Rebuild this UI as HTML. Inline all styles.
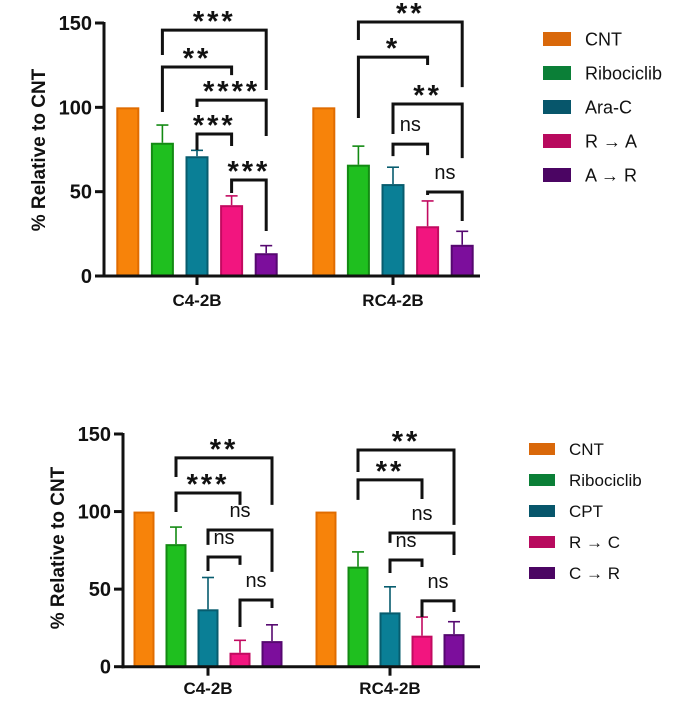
<!DOCTYPE html>
<html><head><meta charset="utf-8"><style>
html,body{margin:0;padding:0;background:#fff;}
svg{display:block;font-family:"Liberation Sans",sans-serif;}
</style></head><body>
<svg id="root" width="675" height="714" viewBox="0 0 675 714"></svg>
<script>
// ---- Chart 1 data ----
const groups1 = ["C4-2B", "RC4-2B"];
const series1 = ["CNT", "Ribociclib", "Ara-C", "R \u2192 A", "A \u2192 R"];
const means1 = [[100, 79, 71, 42, 13.5], [100, 66, 54.5, 29.5, 18.5]];
const errs1 = [[0, 10.5, 3.5, 5.5, 4.5], [0, 11, 10, 15, 8]];
const yTicks1 = [0, 50, 100, 150];
// brackets: [group, fromSeries, toSeries, level, leftEnd, rightEnd, label]
const sig1 = [
  [0,1,4,145.8,131,110.3,"***"],[0,1,3,123.9,97.2,119.1,"**"],[0,2,4,104.3,100.2,83,"****"],
  [0,2,3,84.2,74.7,77.1,"***"],[0,3,4,56.9,49.2,26.7,"***"],
  [1,1,4,150.6,139.9,112,"**"],[1,1,3,129.8,93.7,125.1,"*"],[1,2,4,102,84.2,69.9,"**"],
  [1,2,3,78.2,71.1,71.7,"ns"],[1,3,4,49.8,48,32.6,"ns"]
];
// ---- Chart 2 data ----
const groups2 = ["C4-2B", "RC4-2B"];
const series2 = ["CNT", "Ribociclib", "CPT", "R \u2192 C", "C \u2192 R"];
const means2 = [[100, 79, 37, 9, 16.5], [100, 64.5, 35, 20, 21]];
const errs2 = [[0, 11, 20.5, 8, 10.5], [0, 9.5, 16.5, 12, 8]];
const yTicks2 = [0, 50, 100, 150];
const sig2 = [
  [0,1,4,134.6,122.3,104.3,"**"],[0,1,3,112,99.7,104.3,"***"],[0,2,4,88.1,78.5,61.1,"ns"],
  [0,2,3,70.7,61.7,65.6,"ns"],[0,3,4,43,25.6,37.8,"ns"],
  [1,1,4,139.7,125.5,91.4,"**"],[1,1,3,120.4,107.5,108.1,"**"],[1,2,4,86.2,79.8,72,"ns"],
  [1,2,3,68.8,60.4,64.3,"ns"],[1,3,4,42.4,32,35.3,"ns"]
];

const barFill = ["#f7830a","#1fbf1f","#0a7f96","#f2157f","#7c0e9c"];
const barStroke = ["#e06c00","#138a13","#075c6e","#c20a60","#560870"];
const legFill = ["#d9680a","#0b7f37","#07566b","#b80a5e","#4b0563"];
const NS = "http://www.w3.org/2000/svg";
const root = document.getElementById("root");
function mk(tag, attrs, parent) {
  const e = document.createElementNS(NS, tag);
  for (const k in attrs) e.setAttribute(k, attrs[k]);
  (parent || root).appendChild(e);
  return e;
}

function drawChart(cfg, groups, series, means, errs, yTicks, sig, prefix) {
  const g = mk("g", {});
  
  
  const y = v => cfg.y0 - (v - 0) * (cfg.y0 - cfg.y150) / 150;
  const centers = groups.map((_, gi) => series.map((_, si) => cfg.gx[gi] + (si - 2) * cfg.step));
  groups.forEach((grp, gi) => {
    series.forEach((s, si) => {
      const cx = centers[gi][si], v = means[gi][si], e = errs[gi][si];
      if (e > 0) {
        const ln = mk("line", {x1: cx, x2: cx, y1: y(v), y2: y(v + e), stroke: barStroke[si], "stroke-width": 1.6}, g);
        
        
        const cap = mk("line", {x1: cx - 6, x2: cx + 6, y1: y(v + e), y2: y(v + e), stroke: barStroke[si], "stroke-width": 1.6}, g);
        
        
      }
      const r = mk("rect", {x: cx - cfg.bw / 2 + 1, y: y(v) + 1, width: cfg.bw - 2, height: y(0) - y(v) - 1,
        fill: barFill[si], stroke: barStroke[si], "stroke-width": 2}, g);
      
      
    });
    const t = mk("line", {x1: cfg.gx[gi], x2: cfg.gx[gi], y1: cfg.y0, y2: cfg.y0 + 9, stroke: "#111", "stroke-width": 3}, g);
    
    
    const lt = mk("text", {x: cfg.gx[gi], y: cfg.glabY, "text-anchor": "middle", "font-weight": "bold", "font-size": 17, fill: "#111"}, g);
    lt.textContent = grp;
    
    
  });
  const ya = mk("line", {x1: cfg.ax, x2: cfg.ax, y1: y(150) - 1, y2: cfg.y0 + 1.5, stroke: "#111", "stroke-width": 3}, g);
  
  
  const xa = mk("line", {x1: cfg.ax - 1.5, x2: cfg.xEnd, y1: cfg.y0, y2: cfg.y0, stroke: "#111", "stroke-width": 3}, g);
  
  
  yTicks.forEach(tv => {
    const tk = mk("line", {x1: cfg.ax - 9, x2: cfg.ax, y1: y(tv), y2: y(tv), stroke: "#111", "stroke-width": 3}, g);
    
    
    const tl = mk("text", {x: cfg.ax - 12, y: y(tv) + 7, "text-anchor": "end", "font-weight": "bold", "font-size": 20, fill: "#111"}, g);
    tl.textContent = tv;
    
    
  });
  const yt = mk("text", {x: 0, y: 0, transform: "translate(" + cfg.titleX + "," + cfg.titleY + ") rotate(-90)",
    "text-anchor": "middle", "font-weight": "bold", "font-size": 19, fill: "#111"}, g);
  yt.textContent = "% Relative to CNT";
  
  
  sig.forEach(b => {
    const [gi, a, c, lev, le, re, lab] = b;
    const x1 = centers[gi][a], x2 = centers[gi][c];
    const p = mk("path", {d: "M" + x1 + "," + y(le) + " L" + x1 + "," + y(lev) + " L" + x2 + "," + y(lev) + " L" + x2 + "," + y(re),
      fill: "none", stroke: "#111", "stroke-width": 3}, g);
    
    
    const star = lab !== "ns";
    const tx = mk("text", {x: (x1 + x2) / 2, y: star ? y(lev) + cfg.starOff : y(lev) - 13, "text-anchor": "middle",
      "font-weight": star ? "bold" : "normal", "font-size": star ? 29 : 20, "letter-spacing": star ? 3 : 0, fill: "#111"}, g);
    tx.textContent = lab;
    
    
  });
  series.forEach((s, si) => {
    const cy = cfg.legY + si * cfg.legStep;
    const sw = mk("rect", {x: cfg.legX, y: cy - cfg.swH / 2, width: cfg.swW, height: cfg.swH, fill: legFill[si]}, g);
    
    
    const lt = mk("text", {x: cfg.legX + cfg.swW + 14, y: cy + cfg.legFs * 0.36, "font-size": cfg.legFs, fill: "#111"}, g);
    lt.textContent = s;
    
    
  });
}

drawChart({y0: 276, y150: 23, ax: 104, xEnd: 480, gx: [197, 393], step: 34.6, bw: 23, glabY: 306,
  titleX: 45, titleY: 150, starOff: 1, legX: 543, legY: 39, legStep: 34, swW: 28, swH: 14, legFs: 18},
  groups1, series1, means1, errs1, yTicks1, sig1, "top");
drawChart({y0: 666.7, y150: 434, ax: 123, xEnd: 480, gx: [208, 390], step: 32, bw: 21, glabY: 694,
  titleX: 64, titleY: 548, starOff: 1, legX: 529, legY: 449, legStep: 31, swW: 26, swH: 12, legFs: 17},
  groups2, series2, means2, errs2, yTicks2, sig2, "bottom");
</script>
</body></html>
